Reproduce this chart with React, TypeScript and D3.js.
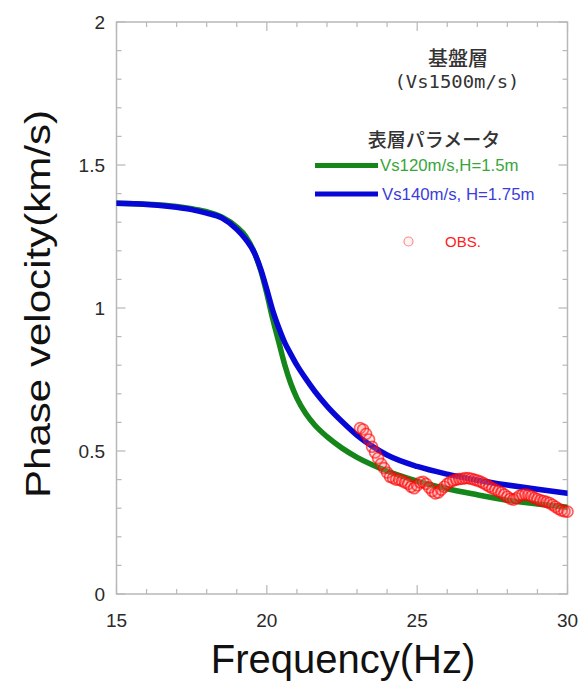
import React from "react";
import * as d3 from "d3";

// ---- data ----
const curveFreq = [15, 16, 17, 17.5, 18, 18.5, 19, 19.3, 19.6, 19.8, 20, 20.2, 20.4, 20.6, 20.8, 21, 21.3, 21.6, 22, 22.5, 23, 23.5, 24, 25, 26, 27, 28, 29, 30];
const greenVel = [1.366, 1.363, 1.355, 1.347, 1.337, 1.318, 1.283, 1.25, 1.19, 1.13, 1.05, 0.96, 0.88, 0.80, 0.735, 0.685, 0.63, 0.59, 0.55, 0.51, 0.478, 0.452, 0.43, 0.395, 0.368, 0.347, 0.328, 0.315, 0.303];
const blueVel = [1.366, 1.362, 1.352, 1.344, 1.332, 1.315, 1.275, 1.24, 1.19, 1.135, 1.065, 0.99, 0.93, 0.878, 0.838, 0.80, 0.752, 0.708, 0.657, 0.603, 0.555, 0.517, 0.486, 0.446, 0.419, 0.398, 0.381, 0.366, 0.352];

const obsFreq = [
  23.1, 23.2, 23.3, 23.4, 23.5, 23.6, 23.7, 23.8, 23.9, 24.0,
  24.1, 24.2, 24.3, 24.4, 24.5, 24.6, 24.7, 24.8, 24.9, 25.0,
  25.1, 25.2, 25.3, 25.4, 25.5, 25.6, 25.7, 25.8, 25.9, 26.0,
  26.1, 26.2, 26.3, 26.4, 26.5, 26.6, 26.7, 26.8, 26.9, 27.0,
  27.1, 27.2, 27.3, 27.4, 27.5, 27.6, 27.7, 27.8, 27.9, 28.0,
  28.1, 28.2, 28.3, 28.4, 28.5, 28.6, 28.7, 28.8, 28.9, 29.0,
  29.1, 29.2, 29.3, 29.4, 29.5, 29.6, 29.7, 29.8, 29.9, 30.0,
];
const obsVel = [
  0.58, 0.575, 0.56, 0.54, 0.515, 0.495, 0.475, 0.455, 0.44, 0.425,
  0.41, 0.405, 0.40, 0.40, 0.395, 0.39, 0.385, 0.375, 0.37, 0.38,
  0.39, 0.392, 0.385, 0.372, 0.36, 0.352, 0.355, 0.365, 0.375, 0.385,
  0.392, 0.397, 0.40, 0.402, 0.403, 0.405, 0.405, 0.403, 0.40, 0.397,
  0.393, 0.388, 0.382, 0.376, 0.37, 0.365, 0.36, 0.355, 0.348, 0.34,
  0.333, 0.33, 0.335, 0.343, 0.347, 0.348, 0.346, 0.342, 0.336, 0.332,
  0.328, 0.325, 0.322, 0.318, 0.312, 0.305, 0.298, 0.292, 0.289, 0.288,
];

const xTickLabels = [15, 20, 25, 30];
const yTickLabels = [0, 0.5, 1, 1.5, 2];
const legendLabels = ["Vs120m/s,H=1.5m", "Vs140m/s, H=1.75m", "OBS."];

// ---- layout ----
const W = 580, H = 682;
const L = 116.5, R = 567.5, T = 22, B = 594;

export default function App() {
  const x = d3.scaleLinear().domain([15, 30]).range([L, R]);
  const y = d3.scaleLinear().domain([0, 2]).range([B, T]);
  const line = d3.line<[number, number]>().x(d => x(d[0])).y(d => y(d[1])).curve(d3.curveMonotoneX);
  const green = curveFreq.map((f, i) => [f, greenVel[i]] as [number, number]);
  const blue = curveFreq.map((f, i) => [f, blueVel[i]] as [number, number]);

  const xMinor = d3.range(15, 30.01, 1);
  const yMinor = d3.range(0, 2.001, 0.1);
  const axisCol = "#b8b8b8";
  const sans = "'Liberation Sans', Arial, sans-serif";
  const jp = "'Noto Sans CJK JP', sans-serif";

  return (
    <svg width={W} height={H} style={{ position: "absolute", left: 0, top: 0, background: "#fff" }}>
      <defs>
        <clipPath id="plot">
          <rect x={L} y={T} width={R - L} height={B - T} />
        </clipPath>
      </defs>

      {/* ticks */}
      <g stroke={axisCol} strokeWidth={1.2}>
        {xMinor.map((v, i) => {
          const major = Math.abs(v % 5) < 1e-6;
          const len = major ? 9 : 5;
          return (
            <g key={"xt" + i}>
              <line x1={x(v)} x2={x(v)} y1={B} y2={B - len} />
              <line x1={x(v)} x2={x(v)} y1={T} y2={T + len} />
            </g>
          );
        })}
        {yMinor.map((v, i) => {
          const r5 = Math.round(v * 10) % 5;
          const len = r5 === 0 ? 9 : 5;
          return (
            <g key={"yt" + i}>
              <line x1={L} x2={L + len} y1={y(v)} y2={y(v)} />
              <line x1={R} x2={R - len} y1={y(v)} y2={y(v)} />
            </g>
          );
        })}
      </g>
      <rect x={L} y={T} width={R - L} height={B - T} fill="none" stroke={axisCol} strokeWidth={1.5} />

      {/* tick labels */}
      <g fontFamily={sans} fontSize={19} fill="#2a2a2a">
        {xTickLabels.map(v => (
          <text key={"xl" + v} x={x(v)} y={627} textAnchor="middle">{v}</text>
        ))}
        {yTickLabels.map(v => (
          <text key={"yl" + v} x={105} y={y(v)} dy="0.36em" textAnchor="end">{v}</text>
        ))}
      </g>

      {/* axis titles */}
      <text x={343} y={673} textAnchor="middle" fontFamily={sans} fontSize={40} fill="#111">Frequency(Hz)</text>
      <text transform={`translate(50,304) rotate(-90)`} textAnchor="middle" fontFamily={sans} fontSize={35} fill="#111"
        textLength={388} lengthAdjust="spacingAndGlyphs">Phase velocity(km/s)</text>

      {/* curves */}
      <g clipPath="url(#plot)" fill="none" strokeLinecap="round">
        <path d={line(green) || ""} stroke="#15861a" strokeWidth={5.5} />
        <path d={line(blue) || ""} stroke="#0808d6" strokeWidth={5.5} />
      </g>

      {/* observations */}
      <g>
        {obsFreq.map((f, i) => (
          <circle key={"o" + i} cx={x(f)} cy={y(obsVel[i])} r={5.5}
            fill="rgba(255,110,110,0.2)" stroke="rgba(255,0,0,0.62)" strokeWidth={1.6} />
        ))}
      </g>

      {/* annotations / legend */}
      <text x={458} y={66} textAnchor="middle" fontFamily={jp} fontSize={20} fontWeight={500} fill="#333">基盤層</text>
      <text x={457} y={88} textAnchor="middle" fontFamily="'DejaVu Sans Mono', monospace" fontSize={18} fill="#333"
        textLength={125} lengthAdjust="spacingAndGlyphs">(Vs1500m/s)</text>
      <text x={434} y={147} textAnchor="middle" fontFamily={jp} fontSize={19} fontWeight={500} fill="#333">表層パラメータ</text>

      <line x1={315} x2={378} y1={165.5} y2={165.5} stroke="#15861a" strokeWidth={5} />
      <text x={380} y={171} fontFamily={sans} fontSize={16.8} fill="#3aa53a">{legendLabels[0]}</text>
      <line x1={315} x2={378} y1={194} y2={194} stroke="#0808d6" strokeWidth={5} />
      <text x={382} y={200} fontFamily={sans} fontSize={16.8} fill="#3c3cdc">{legendLabels[1]}</text>

      <circle cx={408.5} cy={241.5} r={4.5} fill="rgba(255,120,120,0.08)" stroke="rgba(255,0,0,0.45)" strokeWidth={1.2} />
      <text x={445} y={247} fontFamily={sans} fontSize={15} fill="#ff2020">{legendLabels[2]}</text>
    </svg>
  );
}
